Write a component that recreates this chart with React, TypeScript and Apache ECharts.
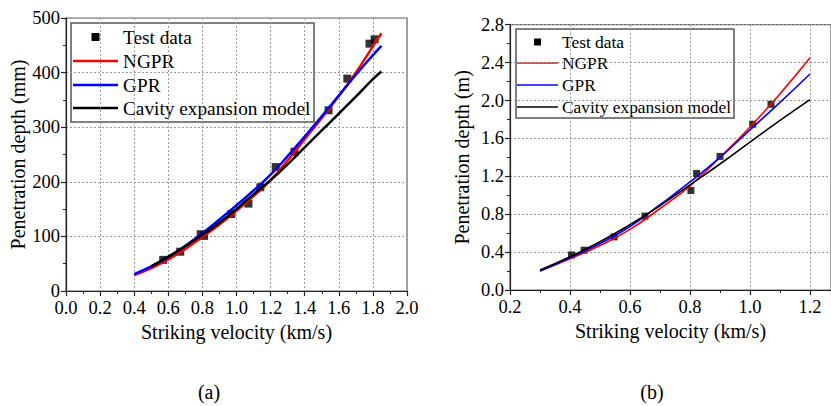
import React, { useEffect, useRef } from "react";
import * as echarts from "echarts";

// ---- Chart (a) ----
const testVelA = [0.57, 0.67, 0.79, 0.81, 0.97, 1.07, 1.14, 1.23, 1.34, 1.54, 1.65, 1.78, 1.81];
const testDepthA = [57, 72, 104, 101, 141, 160, 190, 227, 255, 331, 389, 453, 461];
const curveVelA = [0.4, 0.5, 0.6, 0.7, 0.8, 0.9, 1.0, 1.1, 1.2, 1.3, 1.4, 1.5, 1.6, 1.7, 1.8, 1.85];
const ngprA = [29, 42, 58, 77, 99, 122, 147, 174, 203, 239, 278, 317, 357, 400, 448, 472];
const gprA = [31, 45, 62, 83, 106, 131, 157, 184, 213, 247, 283, 320, 358, 396, 432, 449];
const cavityVelA = [0.5, 0.6, 0.7, 0.8, 0.9, 1.0, 1.1, 1.2, 1.3, 1.4, 1.5, 1.6, 1.7, 1.8, 1.85];
const cavityA = [45, 63, 82, 103, 125, 150, 177, 203, 232, 263, 294, 325, 356, 388, 402];

// ---- Chart (b) ----
const testVelB = [0.405, 0.447, 0.547, 0.65, 0.803, 0.822, 0.9, 1.009, 1.07];
const testDepthB = [0.37, 0.42, 0.56, 0.78, 1.05, 1.23, 1.41, 1.75, 1.96];
const curveVelB = [0.3, 0.4, 0.5, 0.6, 0.7, 0.8, 0.9, 1.0, 1.1, 1.2];
const ngprB = [0.2, 0.33, 0.47, 0.64, 0.86, 1.1, 1.4, 1.72, 2.07, 2.45];
const gprB = [0.2, 0.34, 0.49, 0.67, 0.9, 1.14, 1.4, 1.69, 1.98, 2.28];
const cavityB = [0.21, 0.35, 0.51, 0.69, 0.89, 1.11, 1.33, 1.56, 1.79, 2.01];

const legendNames = ["Test data", "NGPR", "GPR", "Cavity expansion model"];
const lineColors = ["#ff0000", "#0000ff", "#000000"];
const captions = ["(a)", "(b)"];
const xName = "Striking velocity (km/s)";
const yNameA = "Penetration depth (mm)";
const yNameB = "Penetration depth (m)";

const FONT = "Liberation Serif";
const TICK_FS = 18.5;
const NAME_FS = 20;

const zip = (xs: number[], ys: number[]) => xs.map((x, i) => [x, ys[i]]);

function axisCommon() {
  return {
    axisLine: { show: true, lineStyle: { color: "#222", width: 1.2 } },
    axisTick: { show: true, inside: false, length: 5, lineStyle: { color: "#222", width: 1.2 } },
    minorTick: { show: true, splitNumber: 2, length: 3, lineStyle: { color: "#222", width: 1 } },
    splitLine: { show: true, lineStyle: { color: "#9a9a9a", type: [2, 2], width: 1 } },
    axisLabel: { fontFamily: FONT, fontSize: TICK_FS, color: "#000" },
    nameTextStyle: { fontFamily: FONT, fontSize: NAME_FS, color: "#000" },
  };
}

// legend drawn as graphic: box + rows
function legendGraphic(
  x: number, y: number, w: number, h: number, rows: number[],
  lineX0: number, lineX1: number, textX: number, fontSize: number,
  markSize: number, lineW: number
) {
  const children: any[] = [
    { type: "rect", shape: { x, y, width: w, height: h }, style: { fill: "#fff", stroke: "#555", lineWidth: 1.5 } },
    {
      type: "rect",
      shape: { x: (lineX0 + lineX1) / 2 - markSize / 2, y: rows[0] - markSize / 2, width: markSize, height: markSize },
      style: { fill: "#000" },
    },
  ];
  for (let i = 1; i < 4; i++) {
    children.push({
      type: "line",
      shape: { x1: lineX0, y1: rows[i], x2: lineX1, y2: rows[i] },
      style: { stroke: lineColors[i - 1], lineWidth: lineW },
    });
  }
  for (let i = 0; i < 4; i++) {
    children.push({
      type: "text",
      x: textX,
      y: rows[i],
      style: { text: legendNames[i], fontFamily: FONT, fontSize, fill: "#000", align: "left", verticalAlign: "middle" },
    });
  }
  return { type: "group", z: 100, children };
}

export default function App() {
  const ref = useRef<HTMLDivElement>(null);
  useEffect(() => {
    document.body.style.margin = "0";
    const chart = echarts.init(ref.current!, null, { renderer: "svg" });
    const c = axisCommon();
    const option: any = {
      animation: false,
      backgroundColor: "#fff",
      grid: [
        { left: 66, top: 18, width: 341, height: 273, show: true, borderColor: "#666", borderWidth: 1.2, backgroundColor: "transparent" },
        { left: 510, top: 24.7, width: 321, height: 265.3, show: true, borderColor: "#666", borderWidth: 1.2, backgroundColor: "transparent" },
      ],
      xAxis: [
        {
          ...c, gridIndex: 0, type: "value", min: 0, max: 2, interval: 0.2,
          axisLabel: { ...c.axisLabel, margin: 10, lineHeight: 14, formatter: (v: number) => v.toFixed(1) },
          name: xName, nameLocation: "middle", nameGap: 22,
        },
        {
          ...c, gridIndex: 1, type: "value", min: 0.2, max: 1.27, interval: 0.2,
          axisLabel: { ...c.axisLabel, margin: 10, lineHeight: 14, showMaxLabel: false, formatter: (v: number) => v.toFixed(1) },
          name: xName, nameLocation: "middle", nameGap: 28,
        },
      ],
      yAxis: [
        {
          ...c, gridIndex: 0, type: "value", min: 0, max: 500, interval: 100,
          axisLabel: { ...c.axisLabel, margin: 6, lineHeight: 14 },
          name: yNameA, nameLocation: "middle", nameGap: 38, nameRotate: 90,
        },
        {
          ...c, gridIndex: 1, type: "value", min: 0, max: 2.8, interval: 0.4,
          axisLabel: { ...c.axisLabel, margin: 6, lineHeight: 14, formatter: (v: number) => v.toFixed(1) },
          name: yNameB, nameLocation: "middle", nameGap: 38.5, nameRotate: 90,
        },
      ],
      series: [
        { name: legendNames[0], type: "scatter", xAxisIndex: 0, yAxisIndex: 0, symbol: "rect", symbolSize: 8, itemStyle: { color: "#000" }, data: zip(testVelA, testDepthA) },
        { name: legendNames[1], type: "line", xAxisIndex: 0, yAxisIndex: 0, smooth: true, symbol: "none", showSymbol: false, lineStyle: { color: lineColors[0], width: 2.5 }, data: zip(curveVelA, ngprA) },
        { name: legendNames[2], type: "line", xAxisIndex: 0, yAxisIndex: 0, smooth: true, symbol: "none", showSymbol: false, lineStyle: { color: lineColors[1], width: 2.5 }, data: zip(curveVelA, gprA) },
        { name: legendNames[3], type: "line", xAxisIndex: 0, yAxisIndex: 0, smooth: true, symbol: "none", showSymbol: false, lineStyle: { color: lineColors[2], width: 2.5 }, data: zip(cavityVelA, cavityA) },
        { name: legendNames[0] + " b", type: "scatter", xAxisIndex: 1, yAxisIndex: 1, symbol: "rect", symbolSize: 7, itemStyle: { color: "#000" }, data: zip(testVelB, testDepthB) },
        { name: legendNames[1] + " b", type: "line", xAxisIndex: 1, yAxisIndex: 1, smooth: true, symbol: "none", showSymbol: false, lineStyle: { color: lineColors[0], width: 1.6 }, data: zip(curveVelB, ngprB) },
        { name: legendNames[2] + " b", type: "line", xAxisIndex: 1, yAxisIndex: 1, smooth: true, symbol: "none", showSymbol: false, lineStyle: { color: lineColors[1], width: 1.6 }, data: zip(curveVelB, gprB) },
        { name: legendNames[3] + " b", type: "line", xAxisIndex: 1, yAxisIndex: 1, smooth: true, symbol: "none", showSymbol: false, lineStyle: { color: lineColors[2], width: 1.6 }, data: zip(curveVelB, cavityB) },
      ],
      graphic: [
        legendGraphic(71, 23, 243, 99, [37, 61, 85, 108], 73, 118, 123, 19.3, 8, 2.5),
        legendGraphic(516, 29, 218, 89, [42, 63, 85, 107], 517, 558, 562, 17.4, 7, 1.6),
        { type: "text", x: 209, y: 392, style: { text: captions[0], fontFamily: FONT, fontSize: 20, fill: "#000", align: "center", verticalAlign: "middle" } },
        { type: "text", x: 652, y: 392, style: { text: captions[1], fontFamily: FONT, fontSize: 20, fill: "#000", align: "center", verticalAlign: "middle" } },
      ],
    };
    chart.setOption(option);
    return () => chart.dispose();
  }, []);
  return <div ref={ref} style={{ position: "absolute", left: 0, top: 0, width: 831, height: 406 }} />;
}
